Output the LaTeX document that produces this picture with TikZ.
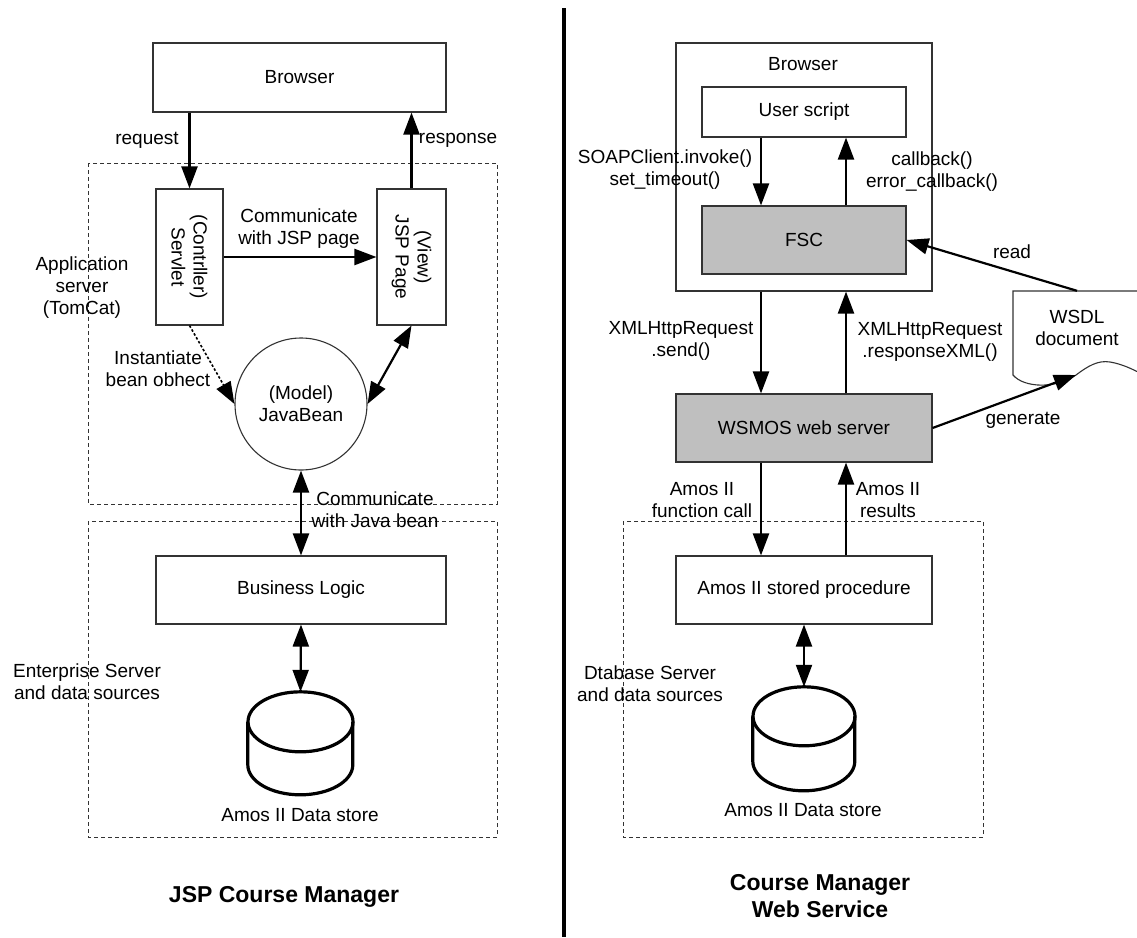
\documentclass[tikz,border=0pt]{standalone}
\usepackage{fontspec}
\setmainfont{Liberation Sans}
\usetikzlibrary{arrows.meta,calc}
\begin{document}
\begin{tikzpicture}[x=1pt,y=-1pt,
  font=\fontsize{19}{22}\selectfont,
  box/.style={draw=black!80,line width=1.1pt,inner sep=0pt,align=center},
  graybox/.style={box,fill=black!25},
  txt/.style={inner sep=0pt,align=center},
  title/.style={inner sep=0pt,align=center,font=\fontsize{23}{27}\selectfont\bfseries},
  group/.style={draw=black!80,line width=0.9pt,dash pattern=on 4pt off 3pt},
  tip/.tip={Triangle[length=22pt,width=16pt]},
  arr/.style={line width=2.2pt,-tip},
  darr/.style={line width=2.2pt,tip-tip},
  dotarr/.style={line width=1.6pt,dash pattern=on 2.5pt off 2pt,-tip},
  cyl/.style={line width=3.2pt},
  divider/.style={line width=4.5pt}
]
\useasboundingbox (0,0) rectangle (1137,937);

% ---------------- divider
\coordinate (dtop) at (564,8);
\coordinate (dbot) at (564,937);
\draw[divider] (dtop) -- (dbot);

% ================= LEFT: JSP Course Manager
\draw[group] (88,163) rectangle (497,504);
\draw[group] (88,521) rectangle (497,837);

\node[box,minimum width=293,minimum height=69] (browserL) at (299.5,77.5) {Browser};
\node[box,minimum width=67,minimum height=136] (servlet) at (189.5,257) {};
\node[txt,rotate=-90] (servlett) at (servlet.center) {(Contrller)\\Servlet};
\node[box,minimum width=69,minimum height=136] (jsp) at (411.5,257) {};
\node[txt,rotate=-90] (jspt) at (jsp.center) {(View)\\JSP Page};
\node[box,circle,minimum size=132] (bean) at (301,404) {(Model)\\JavaBean};
\node[box,minimum width=290,minimum height=68] (bl) at (301,590) {Business Logic};

\node[minimum width=105,minimum height=103,inner sep=0pt] (cylL) at (300.5,743.5) {};
\draw[cyl] ($(cylL.north)+(0,30)$) ellipse [x radius=52.5pt,y radius=30pt];
\draw[cyl] ($(cylL.north west)+(0,30)$) -- ++(0,43)
  arc[start angle=180,end angle=360,x radius=52.5pt,y radius=30pt] -- ++(0,-43);

\draw[arr] (servlet.north |- browserL.south) -- (servlet.north);
\draw[arr] (jsp.north) -- (jsp.north |- browserL.south);
\draw[arr] (servlet.east) -- (jsp.west);
\draw[dotarr] (servlet.south) -- (bean.180);
\draw[darr] (jsp.south) -- (bean.0);
\draw[darr] (bean.south) -- (bl.north);
\draw[darr] (bl.south) -- (cylL.north);

\node[txt] (lreq) at (147,140) {request};
\node[txt] (lresp) at (458,140) {response};
\node[txt] (lcomm) at (299,228.5) {Communicate\\with JSP page};
\node[txt] (lapp) at (82,288) {Application\\server\\(TomCat)};
\node[txt] (linst) at (158,369) {Instantiate\\bean obhect};
\node[txt] (lcjb) at (375,510) {Communicate\\with Java bean};
\node[txt] (lent) at (87,682) {Enterprise Server\\and data sources};
\node[txt] (ldsL) at (300,815) {Amos II Data store};
\node[title] (titleL) at (284,897) {JSP Course Manager};

% ================= RIGHT: Course Manager Web Service
\draw[group] (623,521) rectangle (983,837);

\node[box,minimum width=256,minimum height=248] (browserR) at (804,167) {};
\node[txt] (browserRt) at (803,64) {Browser};
\node[box,minimum width=204,minimum height=50] (user) at (804,112) {User script};
\node[graybox,minimum width=204,minimum height=68] (fsc) at (804,240) {FSC};
\node[graybox,minimum width=256,minimum height=68] (wsmos) at (804,428) {WSMOS web server};
\node[box,minimum width=256,minimum height=68] (sp) at (804,590) {Amos II stored procedure};

\node[minimum width=102,minimum height=104,inner sep=0pt] (cylR) at (804,739) {};
\draw[cyl] ($(cylR.north)+(0,29.5)$) ellipse [x radius=51pt,y radius=29.5pt];
\draw[cyl] ($(cylR.north west)+(0,29.5)$) -- ++(0,45)
  arc[start angle=180,end angle=360,x radius=51pt,y radius=29.5pt] -- ++(0,-45);

% WSDL document
\node[minimum width=124,minimum height=92,inner sep=0pt] (wsdl) at (1075,337) {};
\coordinate (wsdlb) at (1076,375);
\draw[box] (1140,291) -- (1013,291) -- (1013,375)
  .. controls (1024,388) and (1056,389) .. (wsdlb)
  .. controls (1088,366) and (1098,360) .. (1110,362)
  .. controls (1122,364) and (1132,369) .. (1140,373);
\node[txt] (wsdlt) at (1077,327.5) {WSDL\\document};

\draw[arr] ($(user.south)+(-43,0)$) -- ($(fsc.north)+(-43,0)$);
\draw[arr] ($(fsc.north)+(42,0)$) -- ($(user.south)+(42,0)$);
\draw[arr] ($(browserR.south)+(-43,0)$) -- ($(wsmos.north)+(-43,0)$);
\draw[arr] ($(wsmos.north)+(42,0)$) -- ($(browserR.south)+(42,0)$);
\draw[arr] ($(wsmos.south)+(-43,0)$) -- ($(sp.north)+(-43,0)$);
\draw[arr] ($(sp.north)+(42,0)$) -- ($(wsmos.south)+(42,0)$);
\draw[darr] (sp.south) -- (cylR.north);
\draw[arr] ($(wsdl.north)+(2,0)$) -- (fsc.east);
\draw[arr] (wsmos.east) -- (wsdlb);

\node[txt] (lsoap) at (665,170) {SOAPClient.invoke()\\set\_timeout()};
\node[txt] (lcb) at (932,172) {callback()\\error\_callback()};
\node[txt] (lread) at (1012,252) {read};
\node[txt] (lsend) at (681,340.5) {XMLHttpRequest\\.send()};
\node[txt] (lrxml) at (930,342) {XMLHttpRequest\\.responseXML()};
\node[txt] (lgen) at (1023,420) {generate};
\node[txt] (lfc) at (702,500.5) {Amos II\\function call};
\node[txt] (lres) at (888,500.5) {Amos II\\results};
\node[txt] (ldb) at (650,683.5) {Dtabase Server\\and data sources};
\node[txt] (ldsR) at (803,810) {Amos II Data store};
\node[title] (titleR) at (820,896.5) {Course Manager\\Web Service};
\end{tikzpicture}
\end{document}
